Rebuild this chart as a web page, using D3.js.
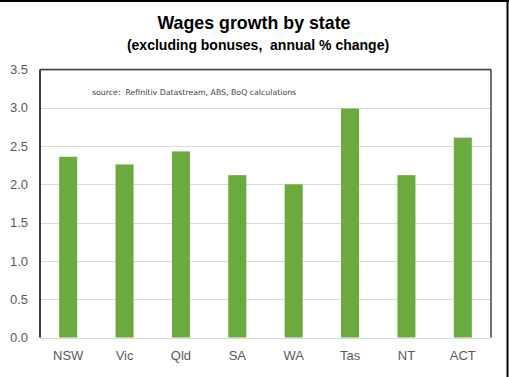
<!DOCTYPE html>
<html>
<head>
<meta charset="utf-8">
<script src="https://cdn.jsdelivr.net/npm/d3@7"></script>
<style>
  body { margin: 0; background: #fff; }
  svg { display: block; }
</style>
</head>
<body>
<script>
// data
var states = ["NSW", "Vic", "Qld", "SA", "WA", "Tas", "NT", "ACT"];
var wages = [2.36, 2.26, 2.43, 2.12, 2.0, 2.99, 2.12, 2.61];
var yTicks = [0, 0.5, 1.0, 1.5, 2.0, 2.5, 3.0, 3.5];

var width = 509,
    height = 377;
var margin = {top: 69.5, right: 18, bottom: 39.5, left: 40};

var svg = d3.select("body")
    .append("svg")
    .attr("width", width)
    .attr("height", height);

// image frame (top + right edge)
svg.append("line")
    .attr("x1", 0).attr("x2", width)
    .attr("y1", 1).attr("y2", 1)
    .attr("stroke", "#000").attr("stroke-width", 2);
svg.append("line")
    .attr("x1", width - 1.5).attr("x2", width - 1.5)
    .attr("y1", 0).attr("y2", height)
    .attr("stroke", "#000").attr("stroke-width", 2);

var x = d3.scaleBand()
    .domain(states)
    .range([margin.left, width - margin.right])
    .paddingInner(0.68)
    .paddingOuter(0.34);

var y = d3.scaleLinear()
    .domain([0, 3.5])
    .range([height - margin.bottom, margin.top]);

// gridlines
svg.append("g")
    .selectAll("line")
    .data(yTicks)
    .enter()
    .append("line")
    .attr("x1", margin.left)
    .attr("x2", width - margin.right)
    .attr("y1", function(d){ return Math.round(y(d)) + 0.5; })
    .attr("y2", function(d){ return Math.round(y(d)) + 0.5; })
    .attr("stroke", "#d9d9d9")
    .attr("stroke-width", 1);

// bars
svg.append("g")
    .selectAll("rect")
    .data(wages)
    .enter()
    .append("rect")
    .attr("x", function(d, i){ return x(states[i]); })
    .attr("width", x.bandwidth())
    .attr("y", function(d){ return y(d); })
    .attr("height", function(d){ return y(0) - y(d); })
    .attr("fill", "#6aaa3f");

// plot frame: top, right, left axis
svg.append("line")
    .attr("x1", margin.left).attr("x2", width - margin.right)
    .attr("y1", y(3.5)).attr("y2", y(3.5))
    .attr("stroke", "#404040").attr("stroke-width", 1.5);
svg.append("line")
    .attr("x1", width - margin.right).attr("x2", width - margin.right)
    .attr("y1", y(3.5)).attr("y2", y(0))
    .attr("stroke", "#404040").attr("stroke-width", 1.5);
svg.append("line")
    .attr("x1", margin.left).attr("x2", margin.left)
    .attr("y1", y(3.5)).attr("y2", y(0))
    .attr("stroke", "#404040").attr("stroke-width", 2);

// y axis labels
var yAxis = d3.axisLeft(y)
    .tickValues(yTicks)
    .tickFormat(d3.format(".1f"))
    .tickSize(0)
    .tickPadding(12);
var gy = svg.append("g")
    .attr("transform", "translate(" + margin.left + ",0)")
    .call(yAxis);
gy.select(".domain").remove();
gy.selectAll("text")
    .attr("fill", "#595959")
    .style("font-family", "'Liberation Sans', Arial, sans-serif")
    .style("font-size", "13px");

// x axis labels
var xAxis = d3.axisBottom(x).tickSize(0).tickPadding(13);
var gx = svg.append("g")
    .attr("transform", "translate(0," + y(0) + ")")
    .call(xAxis);
gx.select(".domain").remove();
gx.selectAll("text")
    .attr("fill", "#595959")
    .style("font-family", "'Liberation Sans', Arial, sans-serif")
    .style("font-size", "13px");

// titles
svg.append("text")
    .attr("x", 254)
    .attr("y", 29)
    .attr("text-anchor", "middle")
    .style("font-family", "'Liberation Sans', Arial, sans-serif")
    .style("font-weight", "bold")
    .style("font-size", "17.8px")
    .attr("fill", "#000")
    .text("Wages growth by state");

svg.append("text")
    .attr("x", 258)
    .attr("y", 50)
    .attr("text-anchor", "middle")
    .style("font-family", "'Liberation Sans', Arial, sans-serif")
    .style("font-weight", "bold")
    .style("font-size", "14px")
    .attr("fill", "#000")
    .style("white-space", "pre")
    .attr("xml:space", "preserve")
    .text("(excluding bonuses,  annual % change)");

// source note
svg.append("text")
    .attr("x", 92)
    .attr("y", 95)
    .style("font-family", "'DejaVu Sans', sans-serif")
    .style("font-size", "7.8px")
    .attr("fill", "#404040")
    .style("white-space", "pre")
    .attr("xml:space", "preserve")
    .text("source:  Refinitiv Datastream, ABS, BoQ calculations");
</script>
</body>
</html>
